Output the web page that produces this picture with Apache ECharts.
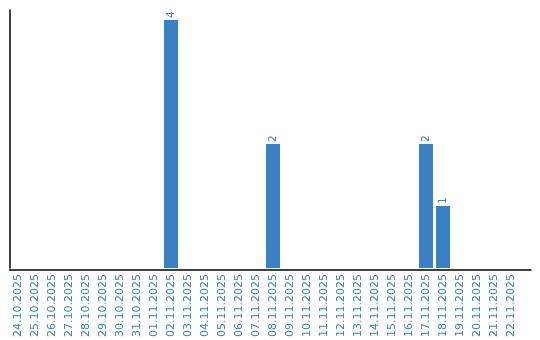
<!DOCTYPE html>
<html><head><meta charset="utf-8">
<script src="https://cdn.jsdelivr.net/npm/echarts@6/dist/echarts.min.js"></script>
<style>html,body{margin:0;padding:0;background:#fff}#c{width:540px;height:340px}</style>
</head><body><div id="c"></div>
<script>
const categories = ["24.10.2025","25.10.2025","26.10.2025","27.10.2025","28.10.2025","29.10.2025","30.10.2025","31.10.2025","01.11.2025","02.11.2025","03.11.2025","04.11.2025","05.11.2025","06.11.2025","07.11.2025","08.11.2025","09.11.2025","10.11.2025","11.11.2025","12.11.2025","13.11.2025","14.11.2025","15.11.2025","16.11.2025","17.11.2025","18.11.2025","19.11.2025","20.11.2025","21.11.2025","22.11.2025"];
const values = [0,0,0,0,0,0,0,0,0,4,0,0,0,0,0,2,0,0,0,0,0,0,0,0,2,1,0,0,0,0];
const blue = '#3b7fc4';
const chart = echarts.init(document.getElementById('c'), null, {renderer:'canvas'});
chart.setOption({
  animation:false,
  grid:[
    {left:9.5, top:10, width:510, height:260},
    {left:9.5, top:10, right:9, height:260}
  ],
  xAxis:[
    {type:'category', gridIndex:0, data:categories,
     axisLine:{show:false}, axisTick:{show:false},
     axisLabel:{rotate:90, interval:0, color:blue, fontFamily:'DejaVu Sans', fontSize:11, margin:6}},
    {type:'value', gridIndex:1, min:0, max:1,
     axisLine:{show:true, lineStyle:{color:'#000', width:1.5}}, axisTick:{show:false},
     axisLabel:{show:false}, splitLine:{show:false}}
  ],
  yAxis:[
    {type:'value', gridIndex:0, min:0, max:4.16,
     axisLine:{show:true, lineStyle:{color:'#000', width:1.5}}, axisTick:{show:false},
     axisLabel:{show:false}, splitLine:{show:false}},
    {type:'value', gridIndex:1, min:0, max:1, show:false}
  ],
  series:[{
    type:'bar', xAxisIndex:0, yAxisIndex:0,
    data: values.map(v => v === 0 ? null : v),
    barWidth:14,
    itemStyle:{color:blue},
    label:{show:true, position:'top', rotate:90, align:'left', verticalAlign:'middle',
      distance:2, color:blue, fontFamily:'DejaVu Sans', fontSize:10.5}
  }]
});
</script></body></html>
